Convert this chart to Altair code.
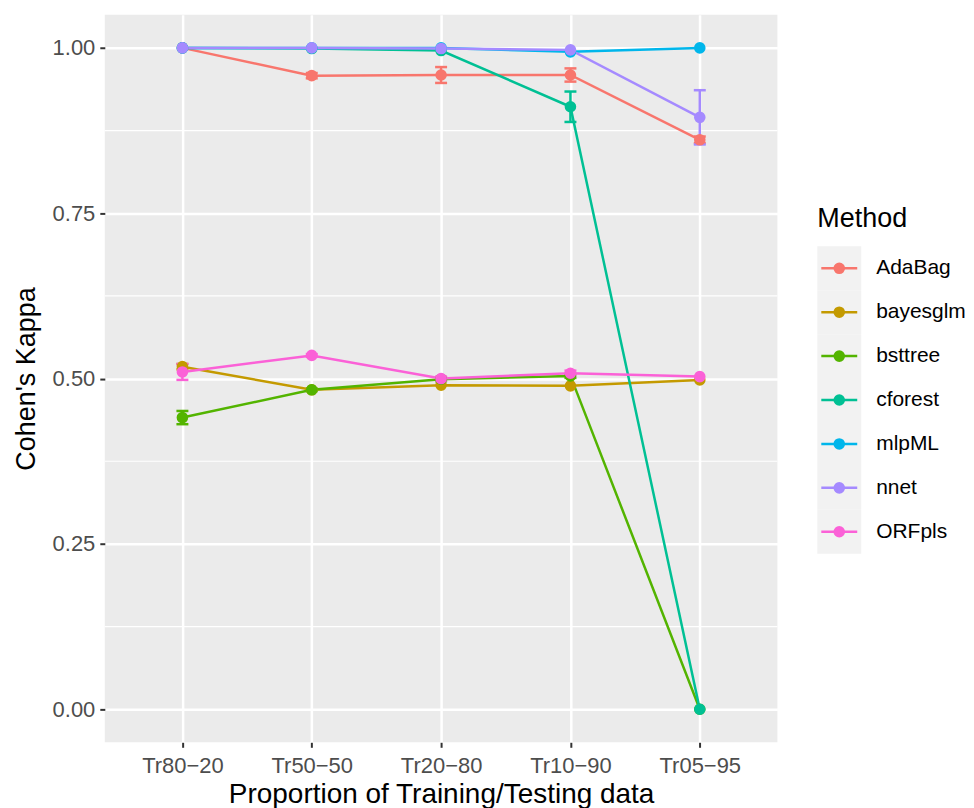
import altair as alt
import pandas as pd

FONT = "Liberation Sans"

splits = ["Tr80\u221220", "Tr50\u221250", "Tr20\u221280", "Tr10\u221290", "Tr05\u221295"]
methods = ["AdaBag", "bayesglm", "bsttree", "cforest", "mlpML", "nnet", "ORFpls"]
colors = ["#F8766D", "#C49A00", "#53B400", "#00C094", "#00B6EB", "#A58AFF", "#FB61D7"]

# mean Cohen's Kappa per split
AdaBag = [1.000, 0.958, 0.959, 0.959, 0.861]
bayesglm = [0.518, 0.483, 0.490, 0.489, 0.498]
bsttree = [0.441, 0.483, 0.499, 0.504, 0.000]
cforest = [1.000, 0.999, 0.996, 0.911, 0.000]
mlpML = [1.000, 1.000, 1.000, 0.994, 1.000]
nnet = [1.000, 1.000, 0.999, 0.997, 0.895]
ORFpls = [0.510, 0.535, 0.500, 0.508, 0.503]

# error bar half-widths
AdaBag_err = [0.000, 0.004, 0.012, 0.010, 0.005]
bayesglm_err = [0.004, 0.000, 0.000, 0.000, 0.000]
bsttree_err = [0.010, 0.002, 0.003, 0.003, 0.000]
cforest_err = [0.000, 0.000, 0.000, 0.023, 0.000]
mlpML_err = [0.000, 0.000, 0.000, 0.000, 0.000]
nnet_err = [0.000, 0.000, 0.000, 0.000, 0.041]
ORFpls_err = [0.012, 0.002, 0.003, 0.004, 0.000]

y_ticks = [0.0, 0.25, 0.5, 0.75, 1.0]
y_minor = [0.125, 0.375, 0.625, 0.875]

series = {
    "AdaBag": (AdaBag, AdaBag_err),
    "bayesglm": (bayesglm, bayesglm_err),
    "bsttree": (bsttree, bsttree_err),
    "cforest": (cforest, cforest_err),
    "mlpML": (mlpML, mlpML_err),
    "nnet": (nnet, nnet_err),
    "ORFpls": (ORFpls, ORFpls_err),
}

rows = []
for m in methods:
    vals, errs = series[m]
    for s, v, e in zip(splits, vals, errs):
        rows.append({"Method": m, "Split": s, "Kappa": v, "lo": v - e, "hi": v + e, "err": e})
df = pd.DataFrame(rows)
err_df = df[df["err"] > 0]
minor_df = pd.DataFrame({"v": y_minor})

W, H = 674, 729
LBL, LEG, TTL = 22, 21, 27

x_axis = alt.Axis(
    title="Proportion of Training/Testing data", labelAngle=0, grid=True,
    gridColor="white", gridWidth=2.5, domain=False, tickColor="#333333",
    tickSize=5, tickWidth=2, labelPadding=8, labelColor="#4D4D4D",
    labelFontSize=LBL, titleFontSize=28, titleFontWeight="normal",
    titleColor="black", titlePadding=4, labelFont=FONT, titleFont=FONT,
)
y_axis = alt.Axis(
    title="Cohen's Kappa", values=y_ticks, format=".2f", grid=True,
    gridColor="white", gridWidth=2.5, domain=False, tickColor="#333333",
    tickSize=5, tickWidth=2, labelPadding=5, labelColor="#4D4D4D",
    labelFontSize=LBL, titleFontSize=TTL, titleFontWeight="normal",
    titleColor="black", titlePadding=12, labelFont=FONT, titleFont=FONT,
)
x_scale = alt.Scale(type="point", domain=splits, padding=0.6)
y_scale = alt.Scale(domain=[-0.05, 1.05], nice=False, zero=False)
color = alt.Color("Method:N", scale=alt.Scale(domain=methods, range=colors), legend=None)

minor = alt.Chart(minor_df).mark_rule(color="white", strokeWidth=1.2).encode(
    y=alt.Y("v:Q", scale=y_scale, axis=y_axis), x=alt.value(0), x2=alt.value(W)
)
eb = alt.Chart(err_df).mark_rule(strokeWidth=2.5).encode(
    x=alt.X("Split:N", scale=x_scale, axis=x_axis, sort=splits),
    y=alt.Y("lo:Q", scale=y_scale, axis=y_axis), y2="hi:Q", color=color,
)
cap_lo = alt.Chart(err_df).mark_tick(thickness=2.5, size=12, orient="horizontal", opacity=1).encode(
    x=alt.X("Split:N", scale=x_scale, axis=x_axis, sort=splits),
    y=alt.Y("lo:Q", scale=y_scale, axis=y_axis), color=color,
)
cap_hi = alt.Chart(err_df).mark_tick(thickness=2.5, size=12, orient="horizontal", opacity=1).encode(
    x=alt.X("Split:N", scale=x_scale, axis=x_axis, sort=splits),
    y=alt.Y("hi:Q", scale=y_scale, axis=y_axis), color=color,
)
line = alt.Chart(df).mark_line(strokeWidth=2.5).encode(
    x=alt.X("Split:N", scale=x_scale, axis=x_axis, sort=splits),
    y=alt.Y("Kappa:Q", scale=y_scale, axis=y_axis), color=color,
)
pts = alt.Chart(df).mark_circle(size=135, opacity=1).encode(
    x=alt.X("Split:N", scale=x_scale, axis=x_axis, sort=splits),
    y=alt.Y("Kappa:Q", scale=y_scale, axis=y_axis), color=color,
)

main = alt.layer(minor, eb, cap_lo, cap_hi, line, pts).properties(
    width=W, height=H,
    view=alt.ViewBackground(fill="#EBEBEB", stroke="transparent", strokeWidth=0),
)

# legend panel
leg_df = pd.DataFrame({"Method": methods})
title_df = pd.DataFrame({"t": ["Method"]})
leg_y = alt.Y("Method:N", sort=methods,
              scale=alt.Scale(type="point", domain=methods, range=[254, 518], padding=0),
              axis=None)
leg_bg = alt.Chart(leg_df).mark_square(size=1936, color="#F2F2F2", opacity=1).encode(
    y=leg_y, x=alt.value(22)
)
leg_rule = alt.Chart(leg_df).mark_rule(strokeWidth=2.5).encode(
    y=leg_y, x=alt.value(4), x2=alt.value(40), color=color
)
leg_pt = alt.Chart(leg_df).mark_circle(size=135, opacity=1).encode(
    y=leg_y, x=alt.value(22), color=color
)
leg_txt = alt.Chart(leg_df).mark_text(align="left", baseline="middle", fontSize=LEG,
                                      font=FONT, color="black").encode(
    y=leg_y, x=alt.value(59), text="Method:N"
)
leg_title = alt.Chart(title_df).mark_text(align="left", baseline="middle", fontSize=TTL,
                                          font=FONT, color="black").encode(
    x=alt.value(0), y=alt.value(205), text="t:N"
)
legend = alt.layer(leg_bg, leg_rule, leg_pt, leg_txt, leg_title).properties(
    width=140, height=H,
    view=alt.ViewBackground(fill="transparent", stroke="transparent", strokeWidth=0),
)

chart = (
    alt.hconcat(main, legend, spacing=40, bounds="flush")
    .resolve_scale(x="independent", y="independent", color="independent")
    .properties(padding={"left": 4, "top": 6, "right": 0, "bottom": 0}, background="white")
    .configure(font=FONT)
    .configure_view(strokeWidth=0)
)

chart.save("out.html", embed_options={"renderer": "svg", "actions": False})
